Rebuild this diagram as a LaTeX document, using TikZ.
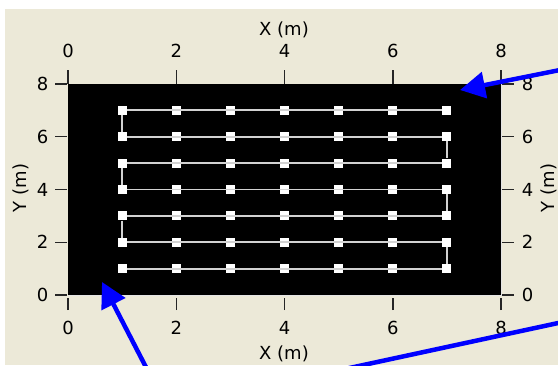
\documentclass[tikz,border=0pt]{standalone}
\usepackage{fontspec}
\setmainfont{DejaVu Sans}
\usetikzlibrary{arrows.meta}
\definecolor{panelbg}{RGB}{236,233,216}
\definecolor{routegray}{RGB}{210,210,210}
\definecolor{callblue}{RGB}{0,0,255}

\begin{document}
\begin{tikzpicture}[x=1pt,y=1pt,
  every node/.style={font=\fontsize{18}{21}\selectfont,inner sep=0pt},
  marker/.style={fill=white,minimum size=9pt,inner sep=0pt},
  tickmark/.style={black!85,line width=1.5pt},
  route/.style={routegray,line width=1.8pt},
  callout/.style={callblue,line width=4.5pt,-{Triangle[length=25pt,width=26pt]}}]
\clip (0,0) rectangle (558,365);
\fill[white] (0,0) rectangle (558,365);
\fill[panelbg] (5,0) rectangle (558,356);
% field area
\fill[black] (68,70) rectangle (501,281);
\draw[white!80!gray,line width=1pt] (68,69.5) -- (501.5,69.5) -- (501.5,281);
% axes
\foreach \v in {0,2,4,6,8} {
  \pgfmathsetmacro\xx{68+54.125*\v}
  \pgfmathsetmacro\yy{70+26.375*\v}
  \draw[tickmark] (\xx,281) -- (\xx,295);
  \draw[tickmark] (\xx,55) -- (\xx,67);
  \draw[tickmark] (55,\yy) -- (67,\yy);
  \draw[tickmark] (502,\yy) -- (514,\yy);
  \node (xtop-\v) at (\xx,314) {\v};
  \node (xbot-\v) at (\xx,37.5) {\v};
  \node (yleft-\v) at (42.5,\yy) {\v};
  \node (yright-\v) at (527.5,\yy) {\v};
}
\node (xlabtop) at (284,335) {X (m)};
\node (xlabbot) at (284,11) {X (m)};
\node[rotate=90] (ylableft) at (21,177) {Y (m)};
\node[rotate=90] (ylabright) at (549,177) {Y (m)};
% measurement points
\foreach \j in {1,...,7}
  \foreach \i in {1,...,7}
    \node[marker] (p-\i-\j) at ({68+54.125*\i},{70+26.375*\j}) {};
\foreach \j in {1,...,7}
  \draw[route] (p-1-\j) \foreach \i in {2,...,7} { -- (p-\i-\j) };
\draw[route] (p-1-7) -- (p-1-6);
\draw[route] (p-1-5) -- (p-1-4);
\draw[route] (p-1-3) -- (p-1-2);
\draw[route] (p-7-6) -- (p-7-5);
\draw[route] (p-7-4) -- (p-7-3);
\draw[route] (p-7-2) -- (p-7-1);
% callouts
\coordinate (tailA) at (580,299);
\coordinate (tipA) at (460,275);
\coordinate (tailB) at (150,-10);
\coordinate (tipB) at (102,83);
\coordinate (lineC1) at (317,-10);
\coordinate (lineC2) at (600,51);
\draw[callout] (tailA) -- (tipA);
\draw[callout] (tailB) -- (tipB);
\draw[callblue,line width=4.5pt] (lineC1) -- (lineC2);
\end{tikzpicture}
\end{document}
